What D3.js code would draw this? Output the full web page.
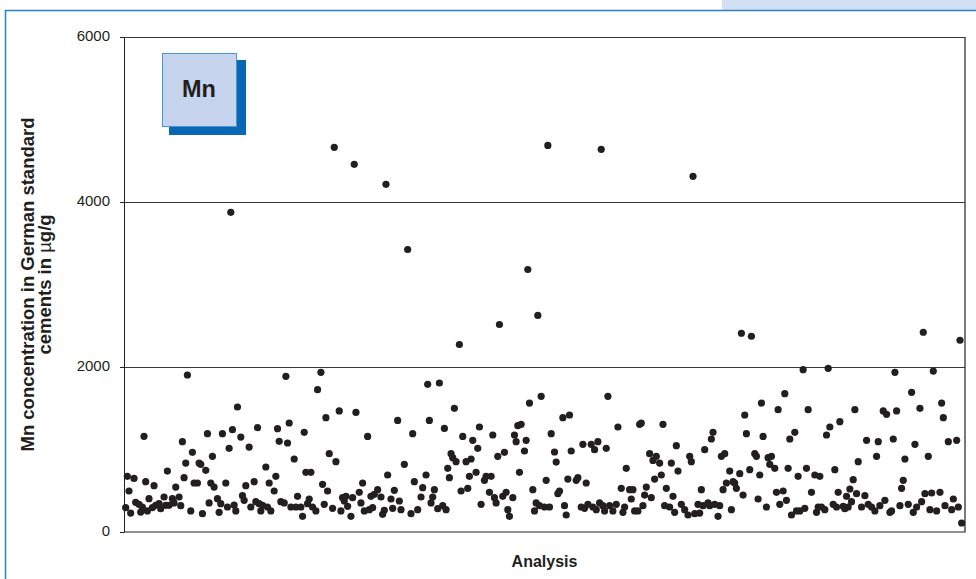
<!DOCTYPE html>
<meta charset="utf-8">
<style>
body { margin: 0; background: #fff; font-family: 'Liberation Sans', Arial, sans-serif; }
.tick text { font-size: 15px; fill: #231f20; }
.ylabel, .xlabel { font-weight: bold; fill: #231f20; }
</style>
<svg id="chart" width="976" height="579"></svg>
<script src="https://cdn.jsdelivr.net/npm/d3@7"></script>
<script>

// Mn concentration in German standard cements (µg/g), one dot per analysis
var analysisNo = [
  1,2,3,4,6,7,9,10,11,12,13,14,15,17,18,19,21,22,24,25,26,27,29,30,31,33,34,35,36,37,38,40,41,42,44,45,46,47,49,50,
  51,52,53,54,56,57,58,59,61,62,63,64,65,66,67,68,70,71,72,73,75,76,78,79,
  80,81,82,83,85,86,87,88,90,91,92,93,94,96,97,98,99,100,102,103,104,106,107,108,109,110,111,112,113,115,116,118,119,120,
  121,122,123,125,126,127,129,130,131,132,133,134,136,137,138,139,141,142,143,144,146,147,148,149,150,152,154,155,156,157,
  158,160,161,162,164,165,166,168,
  170,172,173,174,176,178,179,181,182,183,184,185,186,188,189,191,192,193,194,195,196,197,198,199,201,202,203,205,206,207,
  208,209,211,212,213,214,216,217,219,220,221,222,223,224,225,227,228,229,230,231,233,234,235,236,237,238,240,241,242,243,
  245,246,247,248,249,250,252,253,254,255,256,
  258,259,260,261,263,264,265,266,267,268,271,272,274,275,276,277,278,280,281,282,283,284,285,286,287,288,289,290,291,293,
  295,296,298,299,300,301,303,304,305,306,308,309,310,311,312,313,315,316,317,318,319,321,322,323,324,325,327,328,329,330,
  331,332,334,336,338,339,340,341,342,
  344,345,346,347,348,350,351,352,353,354,356,357,358,359,360,361,363,364,365,366,367,369,370,371,372,373,375,376,378,379,
  380,381,382,383,385,386,387,388,390,391,392,393,395,396,397,398,399,400,402,403,404,405,407,408,409,410,412,414,415,416,
  417,418,420,421,422,423,425,426,427,428,429,
  431,432,433,434,435,436,437,438,439,440,442,444,445,446,448,450,451,452,453,455,456,457,459,460,461,462,463,465,466,467,
  468,470,472,473,474,475,477,478,479,480,482,483,484,485,487,489,490,491,492,494,496,497,499,500,501,502
];

var mnValue = [
  295,675,497,230,650,360,335,242,303,1160,610,255,404,295,562,323,343,283,424,323,739,323,404,352,545,424,319,1095,659,836,1903,255,966,594,594,836,820,222,747,1192,
  352,594,917,545,404,238,343,1192,594,303,1014,3875,1240,327,255,1515,1151,440,384,562,1030,303,610,368,
  1265,343,255,323,788,303,594,255,497,675,1252,1099,368,352,1887,1079,1321,303,885,303,432,303,190,1208,723,343,400,723,303,255,1725,1935,578,335,
  1386,497,949,287,4663,852,1467,255,416,376,432,311,190,416,4457,1450,481,352,594,255,1159,271,432,295,457,513,424,214,263,4214,
  691,400,287,505,1353,376,271,820,
  3424,222,1192,610,271,424,537,691,1790,1353,352,424,513,283,1806,319,1256,271,772,659,949,901,1499,852,2273,497,1159,852,529,675,
  885,1111,723,1014,1273,335,626,675,481,675,1176,416,352,917,2515,432,966,481,271,190,416,1176,1095,1289,723,1305,982,1111,3182,1563,
  513,255,352,2625,319,1644,303,626,4686,303,1192,
  970,848,465,497,1386,319,206,642,1418,982,626,659,303,1063,287,594,335,1063,303,998,271,1095,352,4638,319,255,1014,1644,319,255,
  335,1273,529,238,303,772,513,400,513,255,255,1305,1321,319,448,545,949,416,868,642,917,836,691,1305,319,529,303,836,432,238,
  1046,739,335,271,206,917,852,4311,222,
  335,230,513,319,998,352,319,1127,1208,335,190,319,917,513,949,594,739,271,610,594,529,707,2409,448,1418,1192,755,2373,949,917,
  400,691,1563,1159,303,901,820,917,772,481,1483,335,497,1677,384,772,1127,206,1208,255,675,255,1967,287,772,1483,481,691,238,303,
  675,303,271,1176,1984,1273,335,755,303,481,1337,
  311,283,432,303,521,368,634,1483,465,852,303,440,1111,335,303,255,917,1095,319,1467,384,1426,238,255,1127,1935,1467,319,529,626,
  885,335,1693,238,1063,303,1499,368,2421,465,917,271,473,1951,255,481,1563,1386,319,1095,271,400,1111,303,2324,109
];

var yTicks = [0, 2000, 4000, 6000];
var yTitle = ["Mn concentration in German standard", "cements in "];
var xTitle = "Analysis";
var element = "Mn";

var svg = d3.select("#chart");

var plot = {left: 124, right: 965, top: 37, bottom: 532};

var x = d3.scaleLinear().domain([0, 504]).range([plot.left, plot.right]);
var y = d3.scaleLinear().domain([0, 6000]).range([plot.bottom, plot.top]);

// page frame
svg.append("rect")
    .attr("x", 722).attr("y", 0).attr("width", 254).attr("height", 10)
    .attr("fill", "#d3dff3");
svg.append("path")
    .attr("d", "M5.5,579V10.5H976")
    .attr("fill", "none")
    .attr("stroke", "#2a80cc")
    .attr("stroke-width", 1.5);

// gridlines
svg.append("g")
    .attr("transform", "translate(" + plot.left + ",0)")
    .call(d3.axisLeft(y).tickValues(yTicks.slice(1)).tickSize(-(plot.right - plot.left)).tickFormat(""))
    .call(function(g) { g.select(".domain").remove(); })
    .selectAll("line")
      .attr("stroke", "#3a3a3a");

// y axis
var yAxis = svg.append("g")
    .attr("transform", "translate(" + plot.left + ",0)")
    .call(d3.axisLeft(y).tickValues(yTicks).tickFormat(d3.format("d")).tickSize(4).tickSizeOuter(0).tickPadding(10));
yAxis.select(".domain").attr("stroke", "#231f20");
yAxis.selectAll("line").attr("stroke", "#231f20");
yAxis.selectAll("text").attr("dy", "0.2em");

// plot frame (right and bottom)
svg.append("path")
    .attr("d", "M" + plot.left + "," + plot.bottom + "H" + plot.right + "V" + plot.top)
    .attr("fill", "none")
    .attr("stroke", "#231f20")
    .attr("stroke-width", 1.2);

// dots
svg.append("g")
  .selectAll("circle")
  .data(analysisNo)
  .enter().append("circle")
    .attr("cx", function(d) { return x(d); })
    .attr("cy", function(d, i) { return y(mnValue[i]); })
    .attr("r", 3.6)
    .attr("fill", "#231f20");

// element box
svg.append("rect")
    .attr("x", 169).attr("y", 60).attr("width", 77).attr("height", 75)
    .attr("fill", "#0a67b4");
svg.append("rect")
    .attr("x", 162.5).attr("y", 53.5).attr("width", 74).attr("height", 73)
    .attr("fill", "#c6d4ed")
    .attr("stroke", "#4a93d6")
    .attr("stroke-width", 1);
svg.append("text")
    .attr("x", 199).attr("y", 97)
    .attr("text-anchor", "middle")
    .attr("font-size", 23.5)
    .attr("font-weight", "bold")
    .attr("fill", "#231f20")
    .text(element);

// axis titles
var cy = (plot.top + plot.bottom) / 2;
var yl = svg.append("text")
    .attr("class", "ylabel")
    .attr("transform", "translate(33.5," + cy + ") rotate(-90)")
    .attr("text-anchor", "middle")
    .attr("font-size", 18.5);
yl.append("tspan").attr("x", 0).attr("y", 0).text(yTitle[0]);
yl.append("tspan").attr("x", 0).attr("y", 17.5).text(yTitle[1]);
yl.append("tspan").attr("font-weight", "normal").text("\u00b5");
yl.append("tspan").text("g/g");

svg.append("text")
    .attr("class", "xlabel")
    .attr("x", (plot.left + plot.right) / 2)
    .attr("y", 567)
    .attr("text-anchor", "middle")
    .attr("font-size", 16)
    .text(xTitle);

</script>
